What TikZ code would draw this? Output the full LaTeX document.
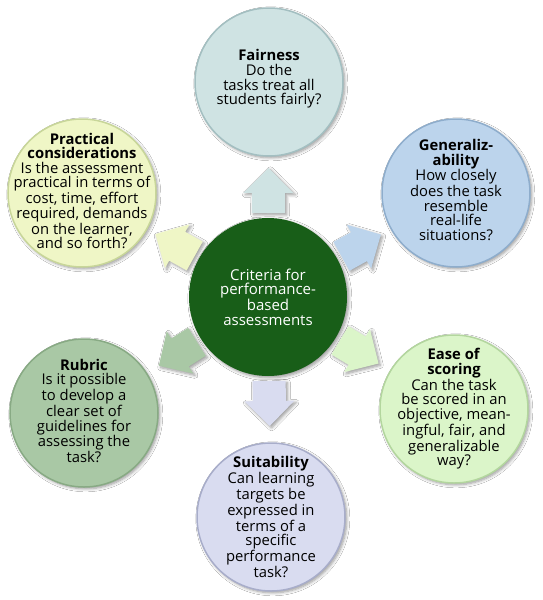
\documentclass[tikz,border=0pt]{standalone}
\usepackage{fontspec}
\setmainfont{Open Sans}
\usetikzlibrary{calc,shadows.blur}
\definecolor{fairfill}{HTML}{CFE3E3}\definecolor{fairdraw}{HTML}{A3BFC1}
\definecolor{genfill}{HTML}{BCD4EC}\definecolor{gendraw}{HTML}{8EADCC}
\definecolor{easefill}{HTML}{DBF5C9}\definecolor{easedraw}{HTML}{B3D69E}
\definecolor{suitfill}{HTML}{D9DCF0}\definecolor{suitdraw}{HTML}{A8ADCA}
\definecolor{rubfill}{HTML}{A9C8A5}\definecolor{rubdraw}{HTML}{88AA84}
\definecolor{pracfill}{HTML}{EFF6C6}\definecolor{pracdraw}{HTML}{C8D699}
\definecolor{centerfill}{HTML}{185E18}
\tikzset{
  softshadow/.style={blur shadow={shadow blur steps=6,shadow xshift=1.8pt,shadow yshift=-1.8pt,shadow blur radius=3pt,shadow opacity=40}},
  bubble/.style={circle,minimum size=148pt,inner sep=0pt,line width=1.5pt,softshadow},
  hub/.style={circle,minimum size=158pt,inner sep=0pt,fill=centerfill,softshadow},
  bubtext/.style={align=center,inner sep=0pt,text=black,font=\fontsize{14.8}{14.6}\selectfont},
  hubtext/.style={align=center,inner sep=0pt,text=white,font=\fontsize{15}{14.6}\selectfont},
}
\newcommand\blockarr[3]{%
  \fill[#3,softshadow]
    ($(#1)!84pt!(#2)!16.5pt!90:(#2)$) --
    ($(#1)!104pt!(#2)!16.5pt!90:(#2)$) --
    ($(#1)!104pt!(#2)!25pt!90:(#2)$) --
    ($(#1)!129pt!(#2)$) --
    ($(#1)!104pt!(#2)!25pt!-90:(#2)$) --
    ($(#1)!104pt!(#2)!16.5pt!-90:(#2)$) --
    ($(#1)!84pt!(#2)!16.5pt!-90:(#2)$) -- cycle;}
\begin{document}
\begin{tikzpicture}[x=1pt,y=-1pt]
\useasboundingbox[fill=white] (0,0) rectangle (543,600);
% nodes
\node[hub] (c) at (268,297) {};
\node[bubble,fill=fairfill,draw=fairdraw] (fair) at (269,82) {};
\node[bubble,fill=genfill,draw=gendraw] (gen) at (456,193) {};
\node[bubble,fill=easefill,draw=easedraw] (ease) at (454,409) {};
\node[bubble,fill=suitfill,draw=suitdraw] (suit) at (271,517) {};
\node[bubble,fill=rubfill,draw=rubdraw] (rub) at (84,413) {};
\node[bubble,fill=pracfill,draw=pracdraw] (prac) at (82,193) {};
% connectors (block arrows)
\blockarr{c}{fair}{fairfill}
\blockarr{c}{gen}{genfill}
\blockarr{c}{ease}{easefill}
\blockarr{c}{suit}{suitfill}
\blockarr{c}{rub}{rubfill}
\blockarr{c}{prac}{pracfill}
% texts
\node[hubtext] (ctxt) at (c) {Criteria for\\performance-\\based\\assessments};
\node[bubtext] (fairtxt) at ($(fair)+(0,-3)$) {\textbf{Fairness}\\Do the\\tasks treat all\\students fairly?};
\node[bubtext] (gentxt) at ($(gen)+(0,-3)$) {\textbf{Generaliz-}\\\textbf{ability}\\How closely\\does the task\\resemble\\real-life\\situations?};
\node[bubtext] (easetxt) at (ease) {\textbf{Ease of}\\\textbf{scoring}\\Can the task\\be scored in an\\objective, mean-\\ingful, fair, and\\generalizable\\way?};
\node[bubtext] (suittxt) at (suit) {\textbf{Suitability}\\Can learning\\targets be\\expressed in\\terms of a\\specific\\performance\\task?};
\node[bubtext] (rubtxt) at ($(rub)+(0,-2)$) {\textbf{Rubric}\\Is it possible\\to develop a\\clear set of\\guidelines for\\assessing the\\task?};
\node[bubtext] (practxt) at ($(prac)+(0,-2)$) {\textbf{Practical}\\\textbf{considerations}\\Is the assessment\\practical in terms of\\cost, time, effort\\required, demands\\on the learner,\\and so forth?};
\end{tikzpicture}
\end{document}
